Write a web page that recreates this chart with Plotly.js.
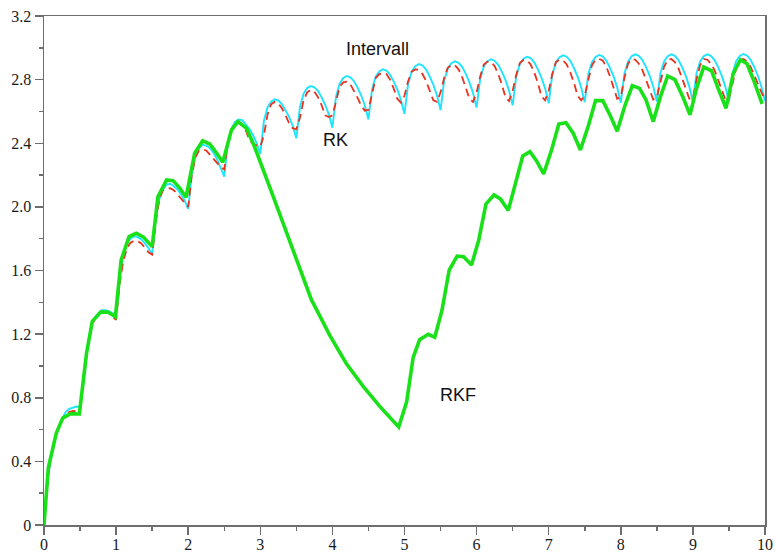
<!DOCTYPE html>
<html>
<head>
<meta charset="utf-8">
<script src="https://cdn.plot.ly/plotly-3.0.1.min.js"></script>
<style>
  html, body { margin: 0; padding: 0; background: #fff; }
  #chart { width: 776px; height: 555px; }
</style>
</head>
<body>
<div id="chart"></div>
<script>
// Sample times (s) shared by the interval solution and the classic RK solution
const tSamples = [
  0,0.05,0.1,0.15,0.2,0.25,0.3,0.35,0.4,0.45,
  0.5,0.55,0.6,0.65,0.7,0.75,0.8,0.85,0.9,0.95,
  1,1.05,1.1,1.15,1.2,1.25,1.3,1.35,1.4,1.45,
  1.5,1.55,1.6,1.65,1.7,1.75,1.8,1.85,1.9,1.95,
  2,2.05,2.1,2.15,2.2,2.25,2.3,2.35,2.4,2.45,
  2.5,2.55,2.6,2.65,2.7,2.75,2.8,2.85,2.9,2.95,
  3,3.05,3.1,3.15,3.2,3.25,3.3,3.35,3.4,3.45,
  3.5,3.55,3.6,3.65,3.7,3.75,3.8,3.85,3.9,3.95,
  4,4.05,4.1,4.15,4.2,4.25,4.3,4.35,4.4,4.45,
  4.5,4.55,4.6,4.65,4.7,4.75,4.8,4.85,4.9,4.95,
  5,5.05,5.1,5.15,5.2,5.25,5.3,5.35,5.4,5.45,
  5.5,5.55,5.6,5.65,5.7,5.75,5.8,5.85,5.9,5.95,
  6,6.05,6.1,6.15,6.2,6.25,6.3,6.35,6.4,6.45,
  6.5,6.55,6.6,6.65,6.7,6.75,6.8,6.85,6.9,6.95,
  7,7.05,7.1,7.15,7.2,7.25,7.3,7.35,7.4,7.45,
  7.5,7.55,7.6,7.65,7.7,7.75,7.8,7.85,7.9,7.95,
  8,8.05,8.1,8.15,8.2,8.25,8.3,8.35,8.4,8.45,
  8.5,8.55,8.6,8.65,8.7,8.75,8.8,8.85,8.9,8.95,
  9,9.05,9.1,9.15,9.2,9.25,9.3,9.35,9.4,9.45,
  9.5,9.55,9.6,9.65,9.7,9.75,9.8,9.85,9.9,9.95,
  10
];

// Interval method solution
const intervallY = [
  0,0.28,0.43,0.54,0.62,0.67,0.71,0.73,0.74,0.745,
  0.74,0.90,1.10,1.24,1.30,1.33,1.35,1.35,1.345,1.33,
  1.30,1.56,1.70,1.77,1.80,1.815,1.81,1.795,1.77,1.74,
  1.70,1.93,2.05,2.11,2.14,2.145,2.13,2.11,2.08,2.04,
  1.987,2.21,2.32,2.37,2.39,2.385,2.37,2.34,2.30,2.25,
  2.19,2.40,2.49,2.535,2.55,2.545,2.52,2.49,2.45,2.40,
  2.333,2.54,2.625,2.662,2.676,2.669,2.647,2.61,2.566,2.509,
  2.431,2.628,2.711,2.747,2.76,2.752,2.729,2.689,2.642,2.582,
  2.498,2.693,2.774,2.81,2.823,2.815,2.79,2.749,2.70,2.637,
  2.55,2.739,2.818,2.852,2.865,2.857,2.831,2.789,2.739,2.674,
  2.584,2.772,2.851,2.885,2.898,2.889,2.863,2.82,2.768,2.701,
  2.609,2.793,2.869,2.903,2.915,2.906,2.88,2.836,2.784,2.717,
  2.624,2.806,2.882,2.916,2.928,2.919,2.893,2.85,2.798,2.731,
  2.638,2.822,2.898,2.932,2.944,2.935,2.909,2.865,2.812,2.745,
  2.651,2.832,2.908,2.941,2.953,2.944,2.918,2.873,2.82,2.752,
  2.658,2.836,2.91,2.943,2.955,2.946,2.919,2.874,2.82,2.751,
  2.655,2.837,2.913,2.947,2.959,2.95,2.923,2.879,2.825,2.757,
  2.662,2.84,2.914,2.947,2.959,2.95,2.923,2.879,2.825,2.756,
  2.661,2.84,2.914,2.947,2.959,2.95,2.923,2.879,2.825,2.756,
  2.661,2.841,2.916,2.949,2.961,2.952,2.925,2.88,2.826,2.757,
  2.665
];

// Classic Runge-Kutta solution
const rkY = [
  0,0.29,0.44,0.55,0.62,0.665,0.70,0.71,0.717,0.715,
  0.71,0.92,1.10,1.23,1.29,1.32,1.335,1.335,1.33,1.31,
  1.29,1.52,1.66,1.74,1.775,1.787,1.785,1.77,1.745,1.715,
  1.70,1.90,2.05,2.105,2.115,2.117,2.105,2.08,2.055,2.025,
  2.0,2.2,2.31,2.355,2.362,2.355,2.33,2.30,2.275,2.25,
  2.235,2.41,2.49,2.525,2.535,2.52,2.48,2.42,2.395,2.385,
  2.378,2.45,2.58,2.645,2.66,2.65,2.62,2.575,2.525,2.495,
  2.488,2.56,2.67,2.72,2.735,2.725,2.69,2.64,2.575,2.565,
  2.575,2.66,2.755,2.783,2.787,2.77,2.73,2.685,2.635,2.605,
  2.61,2.72,2.81,2.835,2.84,2.835,2.80,2.745,2.68,2.655,
  2.70,2.79,2.85,2.864,2.862,2.835,2.79,2.73,2.67,2.66,
  2.72,2.81,2.875,2.892,2.89,2.865,2.815,2.75,2.68,2.66,
  2.72,2.82,2.895,2.913,2.91,2.885,2.835,2.77,2.69,2.665,
  2.73,2.83,2.905,2.923,2.92,2.895,2.845,2.78,2.695,2.67,
  2.73,2.835,2.91,2.925,2.92,2.895,2.845,2.78,2.70,2.67,
  2.70,2.80,2.89,2.925,2.93,2.92,2.88,2.82,2.75,2.68,
  2.69,2.81,2.90,2.93,2.925,2.90,2.86,2.80,2.73,2.675,
  2.69,2.79,2.88,2.925,2.93,2.91,2.87,2.81,2.745,2.68,
  2.68,2.80,2.89,2.93,2.925,2.90,2.86,2.80,2.735,2.675,
  2.68,2.78,2.87,2.92,2.93,2.915,2.88,2.83,2.77,2.72,
  2.68
];

// Runge-Kutta-Fehlberg solution (adaptive steps)
const rkfT = [
  0,0.06,0.17,0.26,0.37,0.49,0.59,0.67,0.79,0.89,0.99,
  1.07,1.18,1.28,1.38,1.50,1.58,1.70,1.79,1.88,1.97,
  2.09,2.20,2.30,2.39,2.48,2.60,2.69,2.81,2.92,3.18,
  3.50,3.71,3.82,3.96,4.19,4.43,4.66,4.92,
  5.03,5.12,5.21,5.33,5.42,5.52,5.62,5.73,5.82,5.93,
  6.03,6.13,6.24,6.33,6.44,6.53,6.64,6.74,6.83,6.93,
  7.04,7.14,7.24,7.34,7.44,7.55,7.65,7.75,7.85,7.95,
  8.06,8.16,8.26,8.35,8.45,8.55,8.65,8.75,8.86,8.96,
  9.05,9.15,9.26,9.35,9.46,9.56,9.66,9.75,9.85,9.96
];
const rkfY = [
  0,0.36,0.576,0.672,0.70,0.698,1.08,1.28,1.34,1.338,1.31,
  1.666,1.813,1.834,1.81,1.75,2.064,2.169,2.165,2.12,2.06,
  2.337,2.416,2.395,2.34,2.28,2.483,2.536,2.494,2.378,2.064,
  1.666,1.415,1.32,1.195,1.017,0.87,0.744,0.616,
  0.775,1.053,1.165,1.199,1.18,1.35,1.603,1.69,1.687,1.635,
  1.792,2.018,2.075,2.05,1.978,2.125,2.32,2.347,2.29,2.207,
  2.358,2.521,2.529,2.463,2.358,2.51,2.668,2.668,2.578,2.475,
  2.64,2.763,2.745,2.672,2.536,2.693,2.823,2.8,2.693,2.578,
  2.745,2.879,2.855,2.745,2.62,2.84,2.925,2.9,2.787,2.647
];

// Axis ticks
const yTickVals = [0, 0.4, 0.8, 1.2, 1.6, 2.0, 2.4, 2.8, 3.2];
const yTickText = ["0", "0.4", "0.8", "1.2", "1.6", "2.0", "2.4", "2.8", "3.2"];
const yMinorVals = [0.2, 0.6, 1.0, 1.4, 1.8, 2.2, 2.6, 3.0];

// Curve labels placed in data coordinates
const labelText = ["Intervall", "RK", "RKF"];
const labelX = [4.63, 4.04, 5.74];
const labelY = [2.99, 2.42, 0.815];

const axisColor = '#6e6e6e';
const tickFont = { family: 'Liberation Serif, Times New Roman, serif', size: 16, color: '#1a1a1a' };

const traces = [
  {
    x: tSamples, y: intervallY, type: 'scatter', mode: 'lines', name: 'Intervall',
    line: { color: '#1ee4ff', width: 1.9 }
  },
  {
    x: tSamples, y: rkY, type: 'scatter', mode: 'lines', name: 'RK',
    line: { color: '#e8321e', width: 1.8, dash: '8px,5px' }
  },
  {
    x: rkfT, y: rkfY, type: 'scatter', mode: 'lines', name: 'RKF',
    line: { color: '#19e019', width: 3.6, shape: 'linear' }
  }
];

const layout = {
  width: 776, height: 555,
  margin: { l: 44, r: 11, t: 16, b: 30 },
  paper_bgcolor: '#ffffff', plot_bgcolor: '#ffffff',
  showlegend: false,
  xaxis: {
    range: [0, 10], tickmode: 'linear', tick0: 0, dtick: 1,
    ticks: 'outside', ticklen: 8, tickwidth: 1.5, tickcolor: axisColor,
    ticklabelstandoff: -4,
    showline: true, linecolor: axisColor, linewidth: 1.5, mirror: true,
    showgrid: false, zeroline: false, tickfont: tickFont,
    minor: { tickmode: 'linear', tick0: 0, dtick: 0.5, ticks: 'outside', ticklen: 4, tickwidth: 1.5, tickcolor: axisColor, showgrid: false }
  },
  yaxis: {
    range: [0, 3.2], tickmode: 'array', tickvals: yTickVals, ticktext: yTickText,
    ticks: 'outside', ticklen: 8, tickwidth: 1.5, tickcolor: axisColor,
    showline: true, linecolor: axisColor, linewidth: 1.5, mirror: true,
    showgrid: false, zeroline: false, tickfont: tickFont,
    minor: { tickmode: 'array', tickvals: yMinorVals, ticks: 'outside', ticklen: 4, tickwidth: 1.5, tickcolor: axisColor, showgrid: false }
  },
  annotations: labelText.map((t, i) => ({
    text: t, x: labelX[i], y: labelY[i], xref: 'x', yref: 'y',
    showarrow: false, xanchor: 'center', yanchor: 'middle',
    font: { family: 'Liberation Sans, Arial, sans-serif', size: 18, color: '#111' }
  }))
};

Plotly.newPlot('chart', traces, layout, { staticPlot: true, displayModeBar: false });
</script>
</body>
</html>
